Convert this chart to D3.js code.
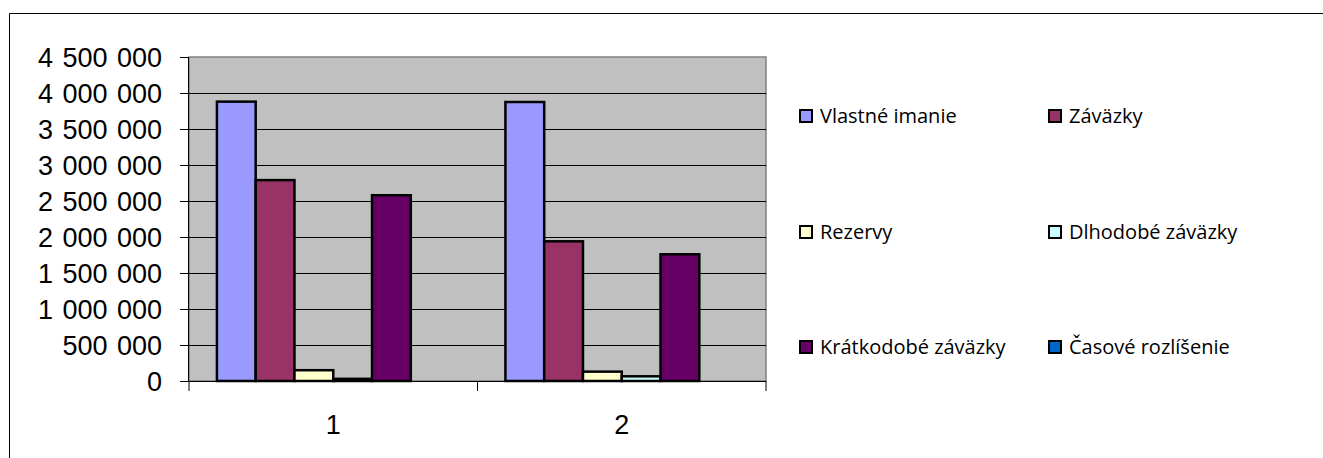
<!DOCTYPE html>
<html>
<head>
<meta charset="utf-8">
<script src="https://cdn.jsdelivr.net/npm/d3@7"></script>
<style>
body{margin:0;background:#fff;}
svg{display:block;}
</style>
</head>
<body>
<div id="chart"></div>
<script>
// data
const categories = ["1", "2"]
const seriesNames = ["Vlastné imanie", "Záväzky", "Rezervy", "Dlhodobé záväzky", "Krátkodobé záväzky", "Časové rozlíšenie"]
const seriesColors = ["#9999FF", "#993366", "#FFFFCC", "#CCFFFF", "#660066", "#0066CC"]
const values1 = [3880000, 2790000, 150000, 30000, 2580000, 0]
const values2 = [3875000, 1940000, 130000, 65000, 1760000, 0]
const yTicks = [0, 500000, 1000000, 1500000, 2000000, 2500000, 3000000, 3500000, 4000000, 4500000]

const allValues = [values1, values2]

const fullWidth = 1323, fullHeight = 458
const margin = {top: 57, left: 189}
const plotW = 577, plotH = 324

const svg = d3.select("#chart").append("svg")
		.attr("width", fullWidth)
		.attr("height", fullHeight)

// outer chart frame
svg.append("path")
		.attr("d", `M9.5,${fullHeight} V13.5 H${fullWidth}`)
		.attr("fill", "none")
		.attr("stroke", "#000")
		.attr("stroke-width", 1)

const g = svg.append("g").attr("transform", `translate(${margin.left},${margin.top})`)

// scales
const xScale = d3.scaleBand().domain(categories).range([0, plotW])
const xInner = d3.scaleBand().domain(seriesNames).range([0, xScale.bandwidth()]).paddingOuter(0.72).paddingInner(0)
const yScale = d3.scaleLinear().domain([0, 4500000]).range([plotH, 0])

// plot background
g.append("rect")
		.attr("width", plotW)
		.attr("height", plotH)
		.attr("fill", "#C0C0C0")
		.attr("stroke", "#808080")
		.attr("stroke-width", 1.5)

// gridlines
g.selectAll(".grid")
		.data(yTicks.filter(d => d > 0 && d < 4500000))
		.join("line")
		.attr("x1", 0).attr("x2", plotW)
		.attr("y1", d => Math.round(yScale(d)) + 0.5)
		.attr("y2", d => Math.round(yScale(d)) + 0.5)
		.attr("stroke", "#000")

// bars
const groups = g.selectAll(".grp")
		.data(categories)
		.join("g")
		.attr("transform", d => `translate(${xScale(d)},0)`)

groups.selectAll("rect")
		.data((d, i) => allValues[i].map((v, j) => ({v: v, name: seriesNames[j], color: seriesColors[j]})))
		.join("rect")
		.attr("x", d => xInner(d.name))
		.attr("width", xInner.bandwidth())
		.attr("y", d => yScale(d.v))
		.attr("height", d => plotH - yScale(d.v))
		.attr("fill", d => d.color)
		.attr("stroke", "#000")
		.attr("stroke-width", 2.5)

// y axis
const yAxis = d3.axisLeft(yScale)
		.tickValues(yTicks)
		.tickSize(9)
		.tickPadding(18)
		.tickFormat(d => d3.format(",")(d).replace(/,/g, " "))

g.append("g")
		.call(yAxis)
		.call(a => a.select(".domain").attr("d", `M-0.5,0V${plotH}`))
		.call(a => a.selectAll("text").attr("font-family", "Liberation Sans, Arial, sans-serif").attr("font-size", 27).attr("word-spacing", 2).attr("dy", "0.36em"))

// x axis
const xAxisG = g.append("g").attr("transform", `translate(0,${plotH})`)
xAxisG.append("line").attr("x1", 0).attr("x2", plotW).attr("y1", 0.5).attr("y2", 0.5).attr("stroke", "#000")
xAxisG.selectAll(".tk")
		.data([0, plotW / 2, plotW])
		.join("line")
		.attr("x1", d => d).attr("x2", d => d)
		.attr("y1", 0).attr("y2", 10)
		.attr("stroke", "#000")
xAxisG.selectAll(".lbl")
		.data(categories)
		.join("text")
		.attr("x", d => xScale(d) + xScale.bandwidth() / 2)
		.attr("y", 53)
		.attr("text-anchor", "middle")
		.attr("font-family", "Liberation Sans, Arial, sans-serif")
		.attr("font-size", 27)
		.text(d => d)

// legend
const legendX = [799, 1048]
const legendY = [116, 232, 347]
const legend = svg.selectAll(".leg")
		.data(seriesNames)
		.join("g")
		.attr("transform", (d, i) => `translate(${legendX[i % 2]},${legendY[Math.floor(i / 2)]})`)

legend.append("rect")
		.attr("x", 1).attr("y", -6)
		.attr("width", 12).attr("height", 12)
		.attr("fill", (d, i) => seriesColors[i])
		.attr("stroke", "#000")
		.attr("stroke-width", 2)

legend.append("text")
		.attr("x", 21)
		.attr("y", 0)
		.attr("dy", "0.35em")
		.attr("font-family", "Open Sans, sans-serif")
		.attr("font-size", 20)
		.text(d => d)
</script>
</body>
</html>
